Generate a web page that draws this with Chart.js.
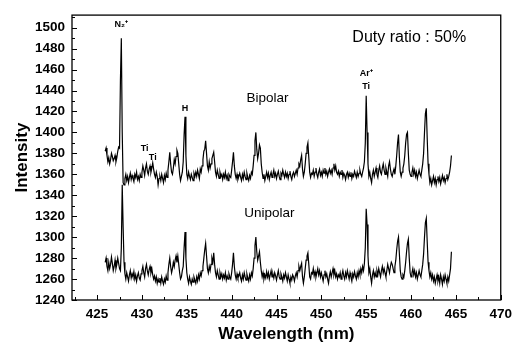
<!DOCTYPE html>
<html lang="en">
<head>
    <meta charset="UTF-8">
    <title>Duty ratio 50% - Bipolar / Unipolar spectra</title>
    <script src="https://cdn.jsdelivr.net/npm/chart.js"></script>
    <style>
        body {
            margin: 0;
            background-color: #ffffff;
        }
        #wrap {
            width: 518px;
            height: 349px;
        }
    </style>
</head>
<body>
    <div id="wrap">
        <canvas id="spectrum" width="518" height="349"></canvas>
    </div>

    <script>
        // wavelength (nm), one sample every 0.1 nm
        const wavelength = [
            425.9,
            426.0, 426.1, 426.2, 426.3, 426.4, 426.5, 426.6, 426.7, 426.8, 426.9,
            427.0, 427.1, 427.2, 427.3, 427.4, 427.5, 427.6, 427.7, 427.8, 427.9,
            428.0, 428.1, 428.2, 428.3, 428.4, 428.5, 428.6, 428.7, 428.8, 428.9,
            429.0, 429.1, 429.2, 429.3, 429.4, 429.5, 429.6, 429.7, 429.8, 429.9,
            430.0, 430.1, 430.2, 430.3, 430.4, 430.5, 430.6, 430.7, 430.8, 430.9,
            431.0, 431.1, 431.2, 431.3, 431.4, 431.5, 431.6, 431.7, 431.8, 431.9,
            432.0, 432.1, 432.2, 432.3, 432.4, 432.5, 432.6, 432.7, 432.8, 432.9,
            433.0, 433.1, 433.2, 433.3, 433.4, 433.5, 433.6, 433.7, 433.8, 433.9,
            434.0, 434.1, 434.2, 434.3, 434.4, 434.5, 434.6, 434.7, 434.8, 434.9,
            435.0, 435.1, 435.2, 435.3, 435.4, 435.5, 435.6, 435.7, 435.8, 435.9,
            436.0, 436.1, 436.2, 436.3, 436.4, 436.5, 436.6, 436.7, 436.8, 436.9,
            437.0, 437.1, 437.2, 437.3, 437.4, 437.5, 437.6, 437.7, 437.8, 437.9,
            438.0, 438.1, 438.2, 438.3, 438.4, 438.5, 438.6, 438.7, 438.8, 438.9,
            439.0, 439.1, 439.2, 439.3, 439.4, 439.5, 439.6, 439.7, 439.8, 439.9,
            440.0, 440.1, 440.2, 440.3, 440.4, 440.5, 440.6, 440.7, 440.8, 440.9,
            441.0, 441.1, 441.2, 441.3, 441.4, 441.5, 441.6, 441.7, 441.8, 441.9,
            442.0, 442.1, 442.2, 442.3, 442.4, 442.5, 442.6, 442.7, 442.8, 442.9,
            443.0, 443.1, 443.2, 443.3, 443.4, 443.5, 443.6, 443.7, 443.8, 443.9,
            444.0, 444.1, 444.2, 444.3, 444.4, 444.5, 444.6, 444.7, 444.8, 444.9,
            445.0, 445.1, 445.2, 445.3, 445.4, 445.5, 445.6, 445.7, 445.8, 445.9,
            446.0, 446.1, 446.2, 446.3, 446.4, 446.5, 446.6, 446.7, 446.8, 446.9,
            447.0, 447.1, 447.2, 447.3, 447.4, 447.5, 447.6, 447.7, 447.8, 447.9,
            448.0, 448.1, 448.2, 448.3, 448.4, 448.5, 448.6, 448.7, 448.8, 448.9,
            449.0, 449.1, 449.2, 449.3, 449.4, 449.5, 449.6, 449.7, 449.8, 449.9,
            450.0, 450.1, 450.2, 450.3, 450.4, 450.5, 450.6, 450.7, 450.8, 450.9,
            451.0, 451.1, 451.2, 451.3, 451.4, 451.5, 451.6, 451.7, 451.8, 451.9,
            452.0, 452.1, 452.2, 452.3, 452.4, 452.5, 452.6, 452.7, 452.8, 452.9,
            453.0, 453.1, 453.2, 453.3, 453.4, 453.5, 453.6, 453.7, 453.8, 453.9,
            454.0, 454.1, 454.2, 454.3, 454.4, 454.5, 454.6, 454.7, 454.8, 454.9,
            455.0, 455.1, 455.2, 455.3, 455.4, 455.5, 455.6, 455.7, 455.8, 455.9,
            456.0, 456.1, 456.2, 456.3, 456.4, 456.5, 456.6, 456.7, 456.8, 456.9,
            457.0, 457.1, 457.2, 457.3, 457.4, 457.5, 457.6, 457.7, 457.8, 457.9,
            458.0, 458.1, 458.2, 458.3, 458.4, 458.5, 458.6, 458.7, 458.8, 458.9,
            459.0, 459.1, 459.2, 459.3, 459.4, 459.5, 459.6, 459.7, 459.8, 459.9,
            460.0, 460.1, 460.2, 460.3, 460.4, 460.5, 460.6, 460.7, 460.8, 460.9,
            461.0, 461.1, 461.2, 461.3, 461.4, 461.5, 461.6, 461.7, 461.8, 461.9,
            462.0, 462.1, 462.2, 462.3, 462.4, 462.5, 462.6, 462.7, 462.8, 462.9,
            463.0, 463.1, 463.2, 463.3, 463.4, 463.5, 463.6, 463.7, 463.8, 463.9,
            464.0, 464.1, 464.2, 464.3, 464.4, 464.5
        ];

        const bipolar = [
            1382,
            1385, 1378, 1372, 1376, 1370, 1374, 1380, 1377, 1373, 1375,
            1378, 1372, 1376, 1382, 1386, 1385, 1450, 1490, 1400, 1352,
            1350, 1356, 1360, 1354, 1358, 1352, 1357, 1361, 1355, 1359,
            1356, 1353, 1360, 1357, 1362, 1355, 1358, 1354, 1360, 1357,
            1362, 1368, 1364, 1359, 1366, 1370, 1363, 1360, 1365, 1368,
            1362, 1366, 1371, 1365, 1360, 1357, 1362, 1358, 1350, 1356,
            1358, 1354, 1360, 1356, 1352, 1359, 1355, 1361, 1357, 1364,
            1372, 1381, 1370, 1362, 1360, 1366, 1374, 1370, 1377, 1383,
            1380, 1370, 1360, 1354, 1358, 1362, 1372, 1398, 1415, 1378,
            1360, 1356, 1362, 1358, 1355, 1360, 1357, 1354, 1361, 1358,
            1362, 1358, 1364, 1360, 1356, 1365, 1362, 1368, 1374, 1382,
            1384, 1392, 1380, 1368, 1364, 1372, 1366, 1370, 1375, 1378,
            1381, 1372, 1362, 1358, 1364, 1360, 1356, 1362, 1358, 1360,
            1355, 1360, 1357, 1362, 1356, 1359, 1354, 1360, 1358, 1357,
            1364, 1372, 1381, 1368, 1360, 1356, 1360, 1355, 1358, 1361,
            1357, 1354, 1360, 1356, 1362, 1358, 1355, 1361, 1357, 1354,
            1359, 1356, 1362, 1360, 1368, 1378, 1392, 1400, 1384, 1375,
            1380, 1388, 1385, 1370, 1362, 1356, 1360, 1354, 1358, 1362,
            1357, 1361, 1355, 1359, 1362, 1357, 1360, 1364, 1358, 1361,
            1356, 1360, 1363, 1358, 1355, 1361, 1359, 1364, 1360, 1357,
            1362, 1358, 1361, 1356, 1360, 1363, 1358, 1355, 1360, 1362,
            1358, 1361, 1364, 1360, 1366, 1370, 1368, 1374, 1378, 1365,
            1358, 1362, 1370, 1380, 1386, 1390, 1376, 1362, 1357, 1361,
            1360, 1364, 1358, 1362, 1366, 1360, 1357, 1362, 1365, 1359,
            1362, 1358, 1364, 1361, 1366, 1360, 1363, 1358, 1362, 1365,
            1361, 1364, 1360, 1366, 1370, 1364, 1368, 1362, 1360, 1363,
            1358, 1362, 1360, 1364, 1357, 1361, 1359, 1355, 1360, 1362,
            1357, 1361, 1358, 1362, 1356, 1360, 1358, 1363, 1360, 1357,
            1362, 1358, 1361, 1364, 1360, 1358, 1362, 1366, 1372, 1390,
            1435, 1400, 1370, 1358, 1362, 1356, 1352, 1360, 1364, 1358,
            1362, 1366, 1360, 1357, 1364, 1368, 1362, 1360, 1366, 1370,
            1364, 1360, 1366, 1362, 1358, 1368, 1372, 1365, 1360, 1358,
            1362, 1365, 1360, 1368, 1378, 1390, 1398, 1376, 1362, 1358,
            1362, 1366, 1370, 1378, 1390, 1398, 1400, 1380, 1364, 1360,
            1358, 1362, 1366, 1360, 1364, 1358, 1362, 1356, 1360, 1364,
            1360, 1358, 1364, 1370, 1380, 1400, 1418, 1423, 1395, 1370,
            1360, 1352, 1356, 1350, 1354, 1358, 1352, 1356, 1350, 1355,
            1358, 1353, 1357, 1351, 1355, 1359, 1354, 1357, 1352, 1356,
            1360, 1355, 1358, 1362, 1368, 1378
        ];

        const unipolar = [
            1276,
            1280, 1272, 1268, 1276, 1270, 1274, 1281, 1275, 1268, 1272,
            1278, 1270, 1274, 1280, 1275, 1270, 1268, 1290, 1350, 1310,
            1276, 1265, 1260, 1266, 1262, 1258, 1264, 1268, 1261, 1265,
            1262, 1267, 1260, 1264, 1258, 1263, 1266, 1261, 1259, 1265,
            1268, 1272, 1266, 1262, 1270, 1274, 1268, 1264, 1269, 1272,
            1266, 1270, 1264, 1260, 1263, 1258, 1262, 1256, 1260, 1257,
            1261, 1256, 1262, 1258, 1255, 1260, 1257, 1263, 1259, 1266,
            1274, 1280, 1272, 1266, 1270, 1276, 1272, 1278, 1282, 1276,
            1282, 1274, 1266, 1260, 1262, 1268, 1272, 1290, 1305, 1280,
            1266, 1260, 1256, 1262, 1258, 1255, 1260, 1257, 1262, 1259,
            1256, 1262, 1258, 1264, 1260, 1266, 1263, 1268, 1272, 1280,
            1288, 1294, 1282, 1270, 1266, 1272, 1268, 1274, 1280, 1276,
            1285, 1274, 1266, 1262, 1268, 1264, 1260, 1266, 1262, 1265,
            1260, 1264, 1261, 1266, 1259, 1263, 1260, 1265, 1262, 1260,
            1266, 1274, 1285, 1272, 1264, 1260, 1265, 1261, 1263, 1266,
            1261, 1258, 1264, 1260, 1266, 1262, 1259, 1265, 1261, 1258,
            1264, 1260, 1266, 1263, 1270, 1280, 1292, 1300, 1286, 1278,
            1282, 1286, 1276, 1268, 1262, 1266, 1260, 1264, 1261, 1267,
            1262, 1266, 1260, 1264, 1268, 1262, 1265, 1261, 1266, 1263,
            1259, 1264, 1268, 1262, 1260, 1265, 1262, 1258, 1264, 1261,
            1266, 1262, 1258, 1264, 1260, 1256, 1262, 1259, 1264, 1262,
            1258, 1263, 1266, 1262, 1268, 1272, 1268, 1272, 1275, 1262,
            1256, 1262, 1270, 1278, 1282, 1285, 1274, 1262, 1260, 1266,
            1265, 1270, 1263, 1267, 1262, 1266, 1270, 1264, 1268, 1262,
            1266, 1262, 1258, 1264, 1268, 1262, 1265, 1260, 1256, 1263,
            1267, 1262, 1266, 1270, 1264, 1268, 1262, 1265, 1260, 1264,
            1262, 1266, 1260, 1264, 1268, 1263, 1260, 1266, 1262, 1268,
            1264, 1260, 1266, 1262, 1258, 1265, 1262, 1267, 1263, 1260,
            1266, 1262, 1268, 1264, 1270, 1266, 1272, 1268, 1275, 1290,
            1327, 1312, 1282, 1266, 1270, 1262, 1256, 1264, 1268, 1262,
            1266, 1262, 1268, 1264, 1270, 1266, 1262, 1268, 1272, 1266,
            1270, 1266, 1262, 1268, 1274, 1270, 1266, 1272, 1276, 1274,
            1270, 1266, 1272, 1278, 1288, 1296, 1300, 1284, 1268, 1262,
            1260, 1264, 1262, 1268, 1276, 1286, 1294, 1298, 1280, 1266,
            1262, 1266, 1270, 1264, 1268, 1262, 1266, 1260, 1264, 1268,
            1264, 1262, 1268, 1274, 1284, 1300, 1314, 1318, 1296, 1276,
            1268, 1262, 1266, 1260, 1264, 1258, 1262, 1256, 1260, 1264,
            1258, 1262, 1256, 1264, 1260, 1255, 1262, 1258, 1264, 1260,
            1256, 1262, 1258, 1264, 1270, 1286
        ];

        const xTicks = [425, 430, 435, 440, 445, 450, 455, 460, 465, 470];
        const xMinorTicks = [422.5, 427.5, 432.5, 437.5, 442.5, 447.5, 452.5, 457.5, 462.5, 467.5];
        const yTicks = [1240, 1260, 1280, 1300, 1320, 1340, 1360, 1380, 1400, 1420, 1440, 1460, 1480, 1500];
        const yMinorTicks = [1250, 1270, 1290, 1310, 1330, 1350, 1370, 1390, 1410, 1430, 1450, 1470, 1490, 1510];

        // peak labels and curve names, placed at (wavelength, intensity)
        const peakLabels = [
            { text: 'N\u2082\u207A', x: 427.7, y: 1503 },
            { text: 'Ti', x: 430.3, y: 1385 },
            { text: 'Ti', x: 431.2, y: 1376 },
            { text: 'H', x: 434.8, y: 1423 },
            { text: 'Ar\u207A', x: 455.0, y: 1456 },
            { text: 'Ti', x: 455.0, y: 1444 }
        ];
        const curveNames = [
            { text: 'Bipolar', x: 444.0, y: 1433 },
            { text: 'Unipolar', x: 444.2, y: 1323 }
        ];
        const noteText = { text: 'Duty ratio : 50%', x: 459.8, y: 1491 };

        const FONT = "'Liberation Sans', Arial, sans-serif";

        function toPoints(values) {
            return values.map((v, i) => ({ x: wavelength[i], y: v }));
        }

        // frame, inward ticks and the text labels
        const framePlugin = {
            id: 'frame',
            afterDraw(chart) {
                const ctx = chart.ctx;
                const area = chart.chartArea;
                const xs = chart.scales.x;
                const ys = chart.scales.y;

                ctx.save();
                ctx.strokeStyle = '#000';
                ctx.lineWidth = 1.3;
                ctx.strokeRect(area.left, area.top, area.right - area.left, area.bottom - area.top);

                ctx.lineWidth = 1;
                ctx.beginPath();
                xTicks.forEach(v => {
                    const px = Math.round(xs.getPixelForValue(v)) + 0.5;
                    ctx.moveTo(px, area.bottom);
                    ctx.lineTo(px, area.bottom - 5);
                });
                xMinorTicks.forEach(v => {
                    const px = Math.round(xs.getPixelForValue(v)) + 0.5;
                    ctx.moveTo(px, area.bottom);
                    ctx.lineTo(px, area.bottom - 3);
                });
                yTicks.forEach(v => {
                    const py = Math.round(ys.getPixelForValue(v)) + 0.5;
                    ctx.moveTo(area.left, py);
                    ctx.lineTo(area.left + 5, py);
                });
                yMinorTicks.forEach(v => {
                    const py = Math.round(ys.getPixelForValue(v)) + 0.5;
                    ctx.moveTo(area.left, py);
                    ctx.lineTo(area.left + 3, py);
                });
                ctx.stroke();

                ctx.fillStyle = '#000';
                ctx.textAlign = 'center';
                ctx.textBaseline = 'middle';

                ctx.font = 'bold 9px ' + FONT;
                peakLabels.forEach(l => {
                    ctx.fillText(l.text, xs.getPixelForValue(l.x), ys.getPixelForValue(l.y));
                });

                ctx.font = '13.5px ' + FONT;
                curveNames.forEach(l => {
                    ctx.fillText(l.text, xs.getPixelForValue(l.x), ys.getPixelForValue(l.y));
                });

                ctx.font = '16px ' + FONT;
                ctx.fillText(noteText.text, xs.getPixelForValue(noteText.x), ys.getPixelForValue(noteText.y));
                ctx.restore();
            }
        };

        new Chart(document.getElementById('spectrum'), {
            type: 'line',
            data: {
                datasets: [
                    {
                        label: 'Bipolar',
                        data: toPoints(bipolar),
                        borderColor: '#000',
                        borderWidth: 1.2,
                        pointRadius: 0,
                        tension: 0
                    },
                    {
                        label: 'Unipolar',
                        data: toPoints(unipolar),
                        borderColor: '#000',
                        borderWidth: 1.2,
                        pointRadius: 0,
                        tension: 0
                    }
                ]
            },
            options: {
                responsive: false,
                animation: false,
                layout: {
                    padding: { top: 8, right: 17, left: 0, bottom: 0 }
                },
                plugins: {
                    legend: { display: false },
                    tooltip: { enabled: false }
                },
                scales: {
                    x: {
                        type: 'linear',
                        min: 422.2,
                        max: 470,
                        afterBuildTicks: scale => {
                            scale.ticks = xTicks.map(v => ({ value: v }));
                        },
                        afterFit: scale => {
                            scale.height = 49;
                        },
                        grid: { display: false, drawTicks: false },
                        border: { display: false },
                        ticks: {
                            color: '#000',
                            padding: 6,
                            maxRotation: 0,
                            autoSkip: false,
                            callback: v => String(v),
                            font: { family: FONT, size: 13.5, weight: 'bold' }
                        },
                        title: {
                            display: true,
                            text: 'Wavelength (nm)',
                            color: '#000',
                            padding: { top: 0, bottom: 4 },
                            font: { family: FONT, size: 17, weight: 'bold' }
                        }
                    },
                    y: {
                        min: 1240,
                        max: 1512,
                        afterBuildTicks: scale => {
                            scale.ticks = yTicks.map(v => ({ value: v }));
                        },
                        afterFit: scale => {
                            scale.width = 72;
                        },
                        grid: { display: false, drawTicks: false },
                        border: { display: false },
                        ticks: {
                            color: '#000',
                            padding: 7,
                            autoSkip: false,
                            callback: v => String(v),
                            font: { family: FONT, size: 13.5, weight: 'bold' }
                        },
                        title: {
                            display: true,
                            text: 'Intensity',
                            color: '#000',
                            padding: { top: 12, bottom: 0 },
                            font: { family: FONT, size: 17, weight: 'bold' }
                        }
                    }
                }
            },
            plugins: [framePlugin]
        });
    </script>
</body>
</html>
